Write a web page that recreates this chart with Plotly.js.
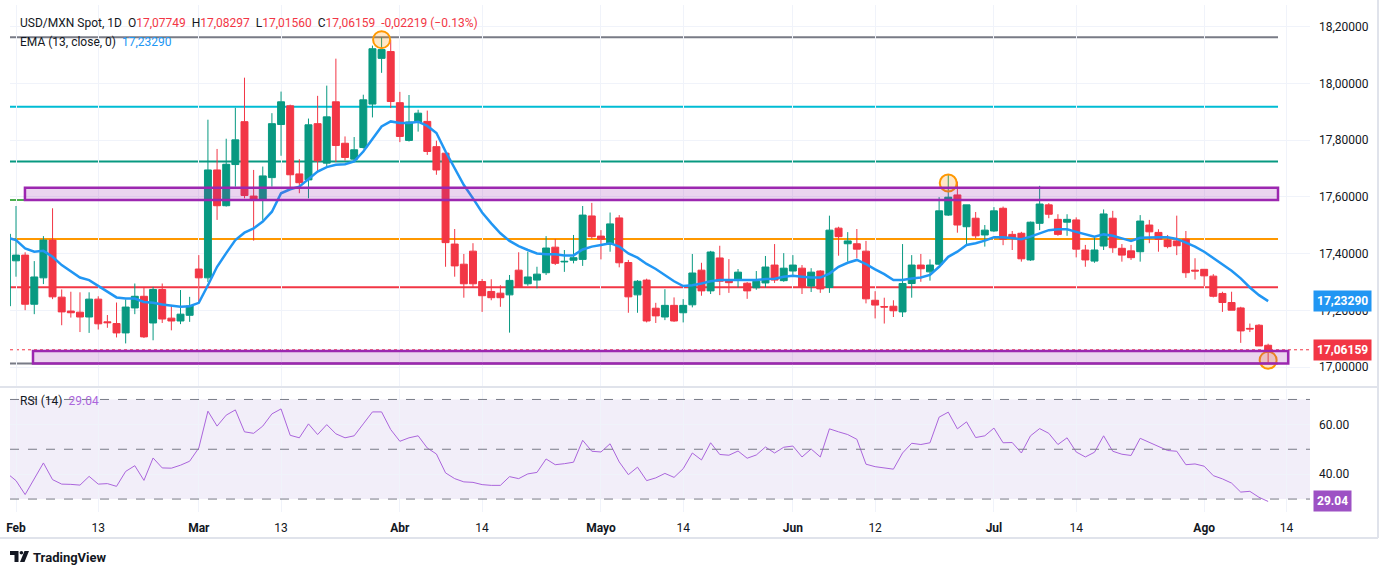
<!DOCTYPE html>
<html>
<head>
<meta charset="utf-8">
<script src="https://cdn.plot.ly/plotly-3.0.1.min.js"></script>
<style>
  html, body { margin: 0; padding: 0; background: #ffffff; }
  #chart { width: 1388px; height: 575px; }
</style>
</head>
<body>
<div id="chart"></div>
<script>
// USD/MXN spot, daily candles, Jan 30 .. Aug 12 (weekdays only)
var first_day = '2026-01-30'
var last_day = '2026-08-12'

var opens = [17.216,
  17.375, 17.395, 17.222, 17.315, 17.448, 17.247, 17.198, 17.194, 17.177, 17.240,
  17.160, 17.154, 17.121, 17.209, 17.250, 17.156, 17.274, 17.173, 17.163, 17.183,
  17.346, 17.315, 17.695, 17.569, 17.714, 17.865, 17.603, 17.592, 17.668, 17.855,
  17.921, 17.681, 17.660, 17.858, 17.719, 17.935, 17.789, 17.733, 17.774, 17.927,
  18.088, 18.112, 17.932, 17.799, 17.864, 17.866, 17.777, 17.754, 17.434, 17.363,
  17.409, 17.302, 17.267, 17.261, 17.255, 17.342, 17.294, 17.307, 17.333, 17.423,
  17.371, 17.377, 17.380, 17.533, 17.462, 17.433, 17.526, 17.369, 17.255, 17.307,
  17.208, 17.177, 17.218, 17.192, 17.220, 17.342, 17.269, 17.385, 17.307, 17.307,
  17.296, 17.280, 17.297, 17.360, 17.305, 17.339, 17.349, 17.286, 17.339, 17.281,
  17.490, 17.435, 17.435, 17.409, 17.236, 17.214, 17.215, 17.195, 17.295, 17.360,
  17.336, 17.363, 17.536, 17.607, 17.495, 17.525, 17.466, 17.480, 17.560, 17.468,
  17.472, 17.378, 17.507, 17.572, 17.521, 17.511, 17.519, 17.413, 17.374, 17.427,
  17.525, 17.419, 17.410, 17.407, 17.501, 17.475, 17.448, 17.445, 17.451, 17.342,
  17.345, 17.321, 17.260, 17.228, 17.209, 17.137, 17.148, 17.07749]

var highs = [17.480,
  17.568, 17.405, 17.374, 17.462, 17.560, 17.274, 17.266, 17.264, 17.264, 17.250,
  17.184, 17.228, 17.239, 17.295, 17.280, 17.283, 17.295, 17.216, 17.272, 17.248,
  17.395, 17.872, 17.769, 17.805, 17.914, 18.020, 17.695, 17.707, 17.895, 17.971,
  17.925, 17.733, 17.876, 17.956, 17.992, 18.087, 17.813, 17.811, 17.960, 18.133,
  18.162, 18.154, 17.970, 17.959, 17.907, 17.904, 17.798, 17.760, 17.487, 17.399,
  17.437, 17.311, 17.310, 17.289, 17.325, 17.405, 17.407, 17.354, 17.462, 17.452,
  17.413, 17.466, 17.568, 17.579, 17.483, 17.545, 17.536, 17.378, 17.307, 17.312,
  17.227, 17.275, 17.246, 17.240, 17.399, 17.368, 17.410, 17.428, 17.381, 17.346,
  17.300, 17.339, 17.392, 17.434, 17.402, 17.395, 17.360, 17.349, 17.342, 17.534,
  17.495, 17.476, 17.487, 17.445, 17.268, 17.245, 17.236, 17.434, 17.395, 17.399,
  17.380, 17.599, 17.678, 17.654, 17.572, 17.547, 17.501, 17.564, 17.566, 17.480,
  17.477, 17.513, 17.639, 17.578, 17.539, 17.539, 17.528, 17.431, 17.456, 17.556,
  17.551, 17.434, 17.431, 17.536, 17.519, 17.486, 17.466, 17.534, 17.480, 17.384,
  17.345, 17.328, 17.266, 17.266, 17.213, 17.154, 17.152, 17.08297]

var lows = [17.200,
  17.319, 17.201, 17.187, 17.293, 17.240, 17.148, 17.175, 17.124, 17.121, 17.133,
  17.139, 17.105, 17.084, 17.187, 17.103, 17.095, 17.156, 17.130, 17.152, 17.160,
  17.226, 17.300, 17.519, 17.566, 17.636, 17.595, 17.446, 17.519, 17.636, 17.745,
  17.627, 17.613, 17.595, 17.689, 17.709, 17.723, 17.728, 17.725, 17.770, 17.880,
  18.037, 17.913, 17.793, 17.795, 17.830, 17.748, 17.678, 17.354, 17.319, 17.245,
  17.283, 17.195, 17.236, 17.213, 17.122, 17.281, 17.287, 17.278, 17.325, 17.360,
  17.336, 17.366, 17.357, 17.452, 17.380, 17.407, 17.352, 17.192, 17.192, 17.158,
  17.156, 17.166, 17.160, 17.158, 17.211, 17.252, 17.258, 17.254, 17.262, 17.281,
  17.241, 17.273, 17.281, 17.297, 17.301, 17.321, 17.258, 17.265, 17.262, 17.262,
  17.393, 17.372, 17.384, 17.225, 17.172, 17.154, 17.177, 17.177, 17.245, 17.301,
  17.305, 17.360, 17.533, 17.474, 17.433, 17.454, 17.425, 17.477, 17.430, 17.413,
  17.372, 17.375, 17.483, 17.525, 17.463, 17.463, 17.387, 17.354, 17.368, 17.413,
  17.403, 17.372, 17.378, 17.372, 17.437, 17.407, 17.419, 17.395, 17.315, 17.309,
  17.286, 17.246, 17.195, 17.201, 17.086, 17.124, 17.075, 17.01560]

var closes = [17.469,
  17.395, 17.222, 17.318, 17.448, 17.248, 17.195, 17.192, 17.177, 17.240, 17.153,
  17.157, 17.121, 17.212, 17.250, 17.107, 17.274, 17.170, 17.163, 17.187, 17.216,
  17.315, 17.695, 17.569, 17.715, 17.801, 17.605, 17.592, 17.674, 17.858, 17.935,
  17.678, 17.650, 17.854, 17.727, 17.882, 17.781, 17.739, 17.766, 17.942, 18.122,
  18.119, 17.936, 17.813, 17.864, 17.895, 17.760, 17.695, 17.439, 17.357, 17.294,
  17.294, 17.252, 17.245, 17.245, 17.306, 17.281, 17.318, 17.328, 17.420, 17.366,
  17.373, 17.386, 17.536, 17.460, 17.451, 17.505, 17.368, 17.248, 17.303, 17.163,
  17.181, 17.218, 17.163, 17.218, 17.332, 17.269, 17.406, 17.303, 17.298, 17.335,
  17.269, 17.303, 17.353, 17.307, 17.349, 17.360, 17.283, 17.335, 17.276, 17.483,
  17.460, 17.445, 17.416, 17.241, 17.219, 17.212, 17.199, 17.295, 17.360, 17.347,
  17.360, 17.551, 17.599, 17.501, 17.572, 17.463, 17.483, 17.551, 17.451, 17.456,
  17.382, 17.511, 17.575, 17.539, 17.468, 17.521, 17.416, 17.378, 17.413, 17.540,
  17.421, 17.395, 17.386, 17.515, 17.477, 17.451, 17.425, 17.428, 17.333, 17.339,
  17.322, 17.250, 17.228, 17.201, 17.128, 17.135, 17.075, 17.06159]

// EMA(13) as drawn on the chart
var ema13 = [17.457,
  17.448, 17.419, 17.407, 17.410, 17.389, 17.360, 17.339, 17.316, 17.307, 17.286,
  17.266, 17.246, 17.242, 17.242, 17.230, 17.227, 17.221, 17.216, 17.213, 17.215,
  17.227, 17.289, 17.354, 17.402, 17.448, 17.474, 17.489, 17.513, 17.548, 17.613,
  17.627, 17.636, 17.663, 17.689, 17.705, 17.713, 17.715, 17.725, 17.760, 17.804,
  17.848, 17.866, 17.860, 17.860, 17.865, 17.850, 17.825, 17.760, 17.701, 17.642,
  17.595, 17.545, 17.507, 17.472, 17.445, 17.427, 17.413, 17.401, 17.398, 17.398,
  17.394, 17.394, 17.415, 17.425, 17.431, 17.437, 17.425, 17.401, 17.386, 17.364,
  17.346, 17.325, 17.303, 17.286, 17.289, 17.295, 17.303, 17.307, 17.307, 17.309,
  17.307, 17.307, 17.311, 17.312, 17.319, 17.322, 17.319, 17.316, 17.316, 17.330,
  17.354, 17.368, 17.378, 17.363, 17.345, 17.328, 17.307, 17.307, 17.313, 17.316,
  17.325, 17.354, 17.389, 17.407, 17.431, 17.437, 17.446, 17.458, 17.458, 17.454,
  17.451, 17.460, 17.472, 17.483, 17.486, 17.486, 17.477, 17.468, 17.460, 17.468,
  17.463, 17.454, 17.445, 17.456, 17.458, 17.458, 17.458, 17.452, 17.439, 17.425,
  17.407, 17.384, 17.360, 17.340, 17.313, 17.281, 17.254, 17.2329]

// RSI(14) as drawn in the lower pane
var rsi14 = [40.4,
  37.4, 31.8, 38.1, 44.5, 37.8, 36.0, 35.9, 35.6, 39.1, 36.0,
  36.2, 35.1, 41.1, 43.4, 37.5, 46.5, 42.5, 42.4, 43.6, 45.2,
  50.5, 65.3, 59.3, 63.7, 65.8, 57.0, 56.4, 59.3, 64.2, 66.2,
  55.6, 54.6, 60.2, 55.9, 59.9, 56.2, 54.6, 55.4, 60.2, 65.0,
  65.0, 57.9, 53.2, 54.6, 55.4, 50.5, 48.1, 40.5, 38.2, 36.9,
  36.7, 35.8, 35.5, 35.5, 39.0, 38.2, 40.1, 40.7, 46.1, 43.8,
  44.2, 44.8, 53.6, 49.2, 48.9, 52.2, 44.9, 39.8, 42.8, 37.4,
  38.5, 40.3, 38.7, 42.2, 48.5, 45.7, 52.6, 47.9, 47.6, 49.3,
  46.4, 47.7, 50.9, 48.5, 50.8, 51.3, 46.9, 50.1, 46.9, 58.2,
  57.0, 55.9, 54.0, 44.0, 43.0, 42.4, 42.0, 48.5, 52.4, 51.9,
  52.6, 62.9, 64.9, 58.2, 61.0, 54.7, 55.4, 58.5, 52.6, 52.7,
  48.5, 55.4, 58.3, 56.4, 51.9, 54.6, 48.9, 46.9, 48.8, 55.4,
  49.2, 48.0, 47.5, 54.4, 52.8, 51.2, 49.5, 49.2, 43.8, 44.1,
  43.2, 39.4, 38.1, 36.4, 32.8, 33.1, 30.7, 29.04]

// drawn levels
var level_prices = [18.162, 17.918, 17.725, 17.589, 17.452, 17.282, 17.013]
var level_colors = ['#787b86', '#00bcd4', '#089981', '#4caf50', '#ff9800', '#f23645', '#787b86']
var zone_tops = [17.632, 17.057]
var zone_bottoms = [17.589, 17.013]
var circle_days = ['2026-03-30', '2026-06-24', '2026-08-12']
var circle_prices = [18.154, 17.649, 17.025]

var tick_days = ['2026-02-02', '2026-02-13', '2026-03-02', '2026-03-13', '2026-04-01', '2026-04-14',
  '2026-05-01', '2026-05-14', '2026-06-01', '2026-06-12', '2026-07-01', '2026-07-14', '2026-08-03', '2026-08-14']
var tick_text = ['<b>Feb</b>', '13', '<b>Mar</b>', '13', '<b>Abr</b>', '14', '<b>Mayo</b>', '14',
  '<b>Jun</b>', '12', '<b>Jul</b>', '14', '<b>Ago</b>', '14']
var price_ticks = [17.0, 17.2, 17.4, 17.6, 17.8, 18.0, 18.2]
var rsi_ticks = [40, 60]

// trading-day index (weekends removed) counted from first_day
function day_index(day) {
  let d = new Date(first_day + 'T00:00:00Z')
  let end = new Date(day + 'T00:00:00Z')
  let n = 0
  while (d < end) {
    d.setUTCDate(d.getUTCDate() + 1)
    let wd = d.getUTCDay()
    if (wd != 0 && wd != 6) n++
  }
  return n
}

var dates = []
{
  let d = new Date(first_day + 'T00:00:00Z')
  let end = new Date(last_day + 'T00:00:00Z')
  while (d <= end) {
    let wd = d.getUTCDay()
    if (wd != 0 && wd != 6) dates.push(d.toISOString().slice(0, 10))
    d.setUTCDate(d.getUTCDate() + 1)
  }
}
var xs = dates.map((d, i) => i)

// pixel helpers for the frame (plot area is x 10..1310, y 5..512)
function px(x) { return (x - 10) / 1300 }
function py(y) { return (512 - y) / 507 }

var x_range = [0.344, 142.58]
var line_end = 139.08
var font_family = 'Roboto, "Noto Sans", sans-serif'
var text_color = '#131722'

var data = [
  {
    type: 'candlestick', x: xs, open: opens, high: highs, low: lows, close: closes,
    text: dates, hoverinfo: 'skip', whiskerwidth: 0,
    increasing: {line: {color: '#089981', width: 1}, fillcolor: '#089981'},
    decreasing: {line: {color: '#f23645', width: 1}, fillcolor: '#f23645'},
    xaxis: 'x', yaxis: 'y', showlegend: false
  },
  {
    type: 'scatter', mode: 'lines', x: xs, y: ema13, hoverinfo: 'skip',
    line: {color: '#2196f3', width: 2.5}, xaxis: 'x', yaxis: 'y', showlegend: false
  },
  {
    type: 'scatter', mode: 'markers', x: circle_days.map(day_index), y: circle_prices,
    hoverinfo: 'skip', cliponaxis: false,
    marker: {size: 17, color: 'rgba(255,152,0,0.22)', line: {color: '#ff9800', width: 2}},
    xaxis: 'x', yaxis: 'y', showlegend: false
  },
  {
    type: 'scatter', mode: 'lines', x: xs, y: rsi14, hoverinfo: 'skip',
    line: {color: '#ab65dc', width: 1}, xaxis: 'x', yaxis: 'y2', showlegend: false
  }
]

var shapes = []

// RSI band and dashed levels
shapes.push({type: 'rect', xref: 'paper', yref: 'y2', x0: 0, x1: 1, y0: 30, y1: 70,
  fillcolor: 'rgba(126,87,194,0.1)', line: {width: 0}, layer: 'below'})
for (let lv of [70, 50, 30]) {
  shapes.push({type: 'line', xref: 'paper', yref: 'y2', x0: 0, x1: 1, y0: lv, y1: lv,
    line: {color: '#787b86', width: 1, dash: 'dash'}})
}

// last price dotted line
shapes.push({type: 'line', xref: 'paper', yref: 'y', x0: 0, x1: 1, y0: closes[closes.length - 1],
  y1: closes[closes.length - 1], line: {color: '#f23645', width: 1, dash: 'dot'}, layer: 'below'})

// horizontal levels
for (let [i, p] of level_prices.entries()) {
  shapes.push({type: 'line', xref: 'x', yref: 'y', x0: x_range[0], x1: line_end, y0: p, y1: p,
    line: {color: level_colors[i], width: 2}, layer: 'below'})
}

// supply / demand zones
var zone_x0 = [1.98, 2.86]
var zone_x1 = [line_end, 140.2]
for (let i = 0; i < zone_tops.length; i++) {
  shapes.push({type: 'rect', xref: 'x', yref: 'y', x0: zone_x0[i], x1: zone_x1[i],
    y0: zone_bottoms[i], y1: zone_tops[i], fillcolor: 'rgba(156,39,176,0.2)',
    line: {color: '#9c27b0', width: 2.5}})
}

// pane separator and outer frame
shapes.push({type: 'line', xref: 'paper', yref: 'paper', x0: px(0), x1: px(1378), y0: py(387), y1: py(387),
  line: {color: '#e0e3eb', width: 2}})
shapes.push({type: 'line', xref: 'paper', yref: 'paper', x0: px(1378), x1: px(1378), y0: py(0), y1: py(538),
  line: {color: '#e0e3eb', width: 2}})
shapes.push({type: 'line', xref: 'paper', yref: 'paper', x0: px(0), x1: px(1378), y0: py(538), y1: py(538),
  line: {color: '#e0e3eb', width: 2}})

// TradingView logo mark
shapes.push({type: 'path', xref: 'paper', yref: 'paper', fillcolor: text_color, line: {width: 0},
  path: 'M ' + px(10) + ' ' + py(551) + ' L ' + px(18.5) + ' ' + py(551) + ' L ' + px(18.5) + ' ' + py(562) +
        ' L ' + px(14.5) + ' ' + py(562) + ' L ' + px(14.5) + ' ' + py(555) + ' L ' + px(10) + ' ' + py(555) + ' Z'})
shapes.push({type: 'circle', xref: 'paper', yref: 'paper', fillcolor: text_color, line: {width: 0},
  x0: px(19.6), x1: px(23.2), y0: py(551), y1: py(554.6)})
shapes.push({type: 'path', xref: 'paper', yref: 'paper', fillcolor: text_color, line: {width: 0},
  path: 'M ' + px(24.5) + ' ' + py(551) + ' L ' + px(29) + ' ' + py(551) + ' L ' + px(24.5) + ' ' + py(562) +
        ' L ' + px(20) + ' ' + py(562) + ' Z'})

var red = '#f23645'
function red_span(t) { return '<span style="color:' + red + '">' + t + '</span>' }

var annotations = [
  {
    xref: 'paper', yref: 'paper', x: px(18), y: py(23), xanchor: 'left', yanchor: 'middle', showarrow: false,
    font: {size: 12, color: text_color, family: font_family},
    text: 'USD/MXN Spot, 1D  O' + red_span('17,07749') + '  H' + red_span('17,08297') +
          '  L' + red_span('17,01560') + '  C' + red_span('17,06159') + '  ' + red_span('-0,02219 (−0.13%)')
  },
  {
    xref: 'paper', yref: 'paper', x: px(18), y: py(42), xanchor: 'left', yanchor: 'middle', showarrow: false,
    font: {size: 12, color: text_color, family: font_family},
    text: 'EMA (13, close, 0)  <span style="color:#2196f3">17,23290</span>'
  },
  {
    xref: 'paper', yref: 'paper', x: px(18), y: py(401), xanchor: 'left', yanchor: 'middle', showarrow: false,
    font: {size: 12, color: text_color, family: font_family},
    text: 'RSI (14)  <span style="color:#ab65dc">29.04</span>'
  },
  {
    xref: 'paper', yref: 'y', x: px(1313), y: ema13[ema13.length - 1], xanchor: 'left', yanchor: 'middle',
    showarrow: false, bgcolor: '#2196f3', borderpad: 3,
    font: {size: 12, color: '#ffffff', family: font_family}, text: '<b>17,23290</b>'
  },
  {
    xref: 'paper', yref: 'y', x: px(1313), y: closes[closes.length - 1], xanchor: 'left', yanchor: 'middle',
    showarrow: false, bgcolor: red, borderpad: 3,
    font: {size: 12, color: '#ffffff', family: font_family}, text: '<b>17,06159</b>'
  },
  {
    xref: 'paper', yref: 'y2', x: px(1313), y: rsi14[rsi14.length - 1], xanchor: 'left', yanchor: 'middle',
    showarrow: false, bgcolor: '#9d51c4', borderpad: 3,
    font: {size: 12, color: '#ffffff', family: font_family}, text: '<b>29.04</b>'
  },
  {
    xref: 'paper', yref: 'paper', x: px(31), y: py(557), xanchor: 'left', yanchor: 'middle', showarrow: false,
    font: {size: 13, color: text_color, family: font_family}, text: '<b>TradingView</b>'
  }
]

var layout = {
  width: 1388, height: 575,
  margin: {l: 10, r: 78, t: 5, b: 63},
  paper_bgcolor: '#ffffff', plot_bgcolor: '#ffffff',
  font: {family: font_family, color: text_color, size: 12},
  hovermode: false,
  boxgap: 0.24, boxgroupgap: 0,
  xaxis: {
    range: x_range, anchor: 'y2', showgrid: true, gridcolor: '#f0f3fa', zeroline: false,
    showline: false, ticks: '', tickmode: 'array', tickvals: tick_days.map(day_index), ticktext: tick_text,
    tickfont: {size: 12, color: text_color}, ticklabelstandoff: 7, rangeslider: {visible: false}, fixedrange: true
  },
  yaxis: {
    domain: [py(386), 1], range: [16.934, 18.276], side: 'right', showgrid: true, gridcolor: '#f0f3fa',
    zeroline: false, ticks: '', tickmode: 'array', tickvals: price_ticks,
    ticktext: price_ticks.map(v => v.toFixed(5).replace('.', ',')),
    tickfont: {size: 12, color: text_color}, ticklabelstandoff: 8
  },
  yaxis2: {
    domain: [0, py(389)], range: [24.8, 74.2], side: 'right', showgrid: true, gridcolor: '#f0f3fa',
    zeroline: false, ticks: '', tickmode: 'array', tickvals: rsi_ticks,
    ticktext: rsi_ticks.map(v => v.toFixed(2)),
    tickfont: {size: 12, color: text_color}, ticklabelstandoff: 8
  },
  shapes: shapes,
  annotations: annotations
}

Plotly.newPlot('chart', data, layout, {displayModeBar: false, staticPlot: true})
</script>
</body>
</html>
